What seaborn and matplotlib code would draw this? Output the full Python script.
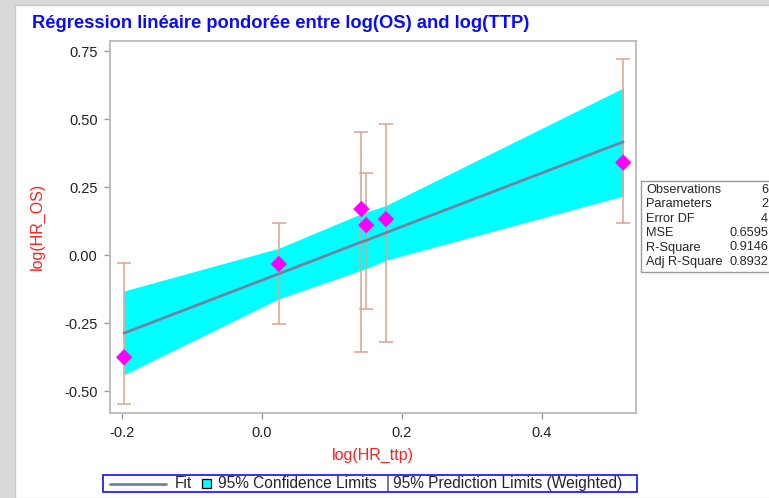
import matplotlib
matplotlib.use("Agg")
import matplotlib.pyplot as plt
import seaborn as sns
import pandas as pd
from matplotlib.lines import Line2D
from matplotlib.patches import Rectangle

# values
log_hr_ttp = [-0.197, 0.024, 0.142, 0.149, 0.177, 0.516]
log_hr_os = [-0.375, -0.032, 0.170, 0.111, 0.133, 0.341]
fit = [-0.286, -0.068, 0.049, 0.055, 0.083, 0.417]
clm_low = [-0.439, -0.160, -0.055, -0.049, -0.018, 0.218]
clm_high = [-0.131, 0.026, 0.153, 0.159, 0.183, 0.615]
pred_low = [-0.545, -0.254, -0.355, -0.197, -0.319, 0.117]
pred_high = [-0.030, 0.119, 0.453, 0.303, 0.483, 0.720]

stat_names = ["Observations", "Parameters", "Error DF", "MSE", "R-Square", "Adj R-Square"]
stat_values = ["6", "2", "4", "0.6595", "0.9146", "0.8932"]

x_ticks = [-0.2, 0.0, 0.2, 0.4]
y_ticks = [-0.50, -0.25, 0.00, 0.25, 0.50, 0.75]

FIT_COLOR = "#7482a2"
BAND_COLOR = "#00ffff"
BAR_COLOR = "#dba38c"

df = pd.DataFrame({
    "x": log_hr_ttp, "y": log_hr_os, "fit": fit,
    "clm_lo": clm_low, "clm_hi": clm_high,
    "pi_lo": pred_low, "pi_hi": pred_high,
})

sns.set_style("white")
plt.rcParams["font.family"] = ["Liberation Sans", "DejaVu Sans"]
plt.rcParams["axes.unicode_minus"] = False

W, H = 769, 498


def fx(px):
    return px / W


def fy(py):
    return 1 - py / H


fig = plt.figure(figsize=(W / 100, H / 100), dpi=100)
fig.patch.set_facecolor("#d9d9d9")
# white panel on the grey page
fig.patches.append(Rectangle((fx(15), 0), 1, 1 - 5 / H, transform=fig.transFigure,
                             facecolor="white", edgecolor="#c8c8c8", lw=1, zorder=-5))

ax = fig.add_axes([fx(110), fy(413), (636 - 110) / W, (413 - 40.7) / H])
ax.set_zorder(2)
ax.set_facecolor("white")

ax.fill_between(df["x"], df["clm_lo"], df["clm_hi"], color=BAND_COLOR, lw=0, zorder=1)
ax.errorbar(df["x"], df["fit"],
            yerr=[df["fit"] - df["pi_lo"], df["pi_hi"] - df["fit"]],
            fmt="none", ecolor=BAR_COLOR, elinewidth=1.1, capsize=4.8, capthick=1.1, zorder=2)
sns.lineplot(data=df, x="x", y="fit", ax=ax, color=FIT_COLOR, lw=2, zorder=3)
sns.scatterplot(data=df, x="x", y="y", ax=ax, marker="D", s=70, color="#ff00ff",
                edgecolor="none", zorder=4)

ax.set_xlim((110 - 262) / 700, (636 - 262) / 700)
ax.set_ylim((255.3 - 413) / 272, (255.3 - 40.7) / 272)
ax.set_xticks(x_ticks)
ax.set_xticklabels([f"{v:.1f}" for v in x_ticks])
ax.set_yticks(y_ticks)
ax.set_yticklabels([f"{v:.2f}" for v in y_ticks])
ax.tick_params(axis="both", direction="out", length=4, width=1, color="#9a9a9a",
               labelsize=10.5, labelcolor="#222222", pad=5, bottom=True, left=True)
for s in ax.spines.values():
    s.set_color("#b4b4b4")
    s.set_linewidth(1.2)

ax.set_xlabel("log(HR_ttp)", color="#ff2020", fontsize=11.5)
ax.set_ylabel("log(HR_OS)", color="#ff2020", fontsize=11.5)
ax.xaxis.set_label_coords(0.5, -0.094)
ax.yaxis.set_label_coords(-0.124, 0.5)

fig.text(fx(32), fy(24), "Régression linéaire pondorée entre log(OS) and log(TTP)",
         color="#0a0aff", fontsize=13.2, fontweight="bold", va="center", ha="left")

# fit statistics inset (cut by the page edge)
fig.patches.append(Rectangle((fx(641), fy(272)), 200 / W, 91 / H, transform=fig.transFigure,
                             facecolor="white", edgecolor="#9a9a9a", lw=1, zorder=5))
for i, (name, val) in enumerate(zip(stat_names, stat_values)):
    yy = fy(189.5 + i * 14.5)
    fig.text(fx(646), yy, name, fontsize=9.2, va="center", ha="left", zorder=6)
    fig.text(fx(768), yy, val, fontsize=9.2, va="center", ha="right", zorder=6)

# legend strip at the bottom
fig.patches.append(Rectangle((fx(103), fy(492)), (637 - 103) / W, 17 / H,
                             transform=fig.transFigure, facecolor="white",
                             edgecolor="#2020ff", lw=1.3, zorder=5))
ly = fy(483.5)
fig.add_artist(Line2D([fx(110), fx(166)], [ly, ly], color=FIT_COLOR, lw=2,
                      transform=fig.transFigure, zorder=6))
fig.text(fx(175), ly, "Fit", fontsize=11.2, va="center", ha="left", zorder=6)
fig.patches.append(Rectangle((fx(202), fy(488)), 9 / W, 9 / H, transform=fig.transFigure,
                             facecolor=BAND_COLOR, edgecolor="black", lw=0.9, zorder=6))
fig.text(fx(218), ly, "95% Confidence Limits", fontsize=11.2, va="center", ha="left", zorder=6)
fig.text(fx(386), ly, "|", fontsize=11.2, va="center", ha="left", color="#333333", zorder=6)
fig.text(fx(393), ly, "95% Prediction Limits (Weighted)", fontsize=11.2, va="center",
         ha="left", zorder=6)

fig.savefig("out.png", dpi=100, facecolor=fig.get_facecolor())
